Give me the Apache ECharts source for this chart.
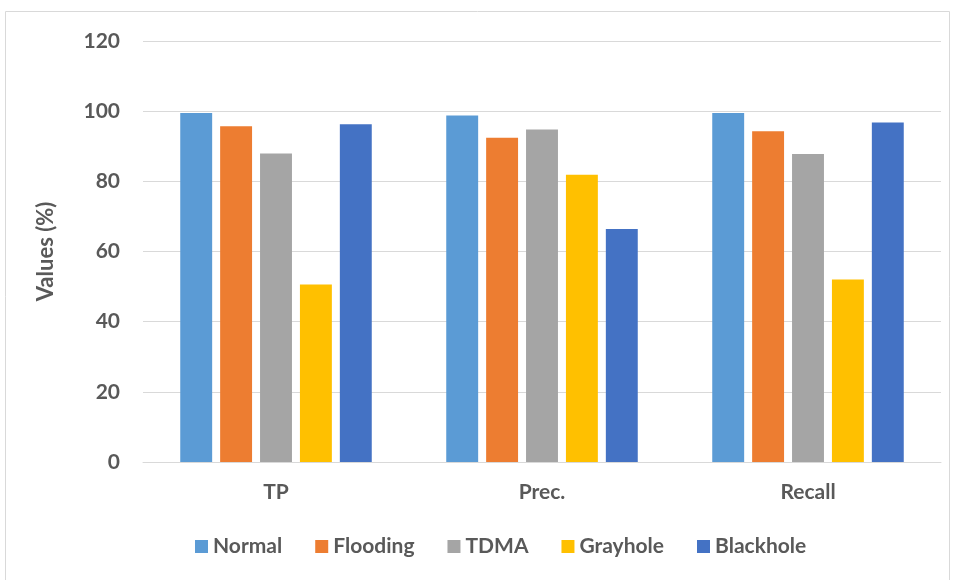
<!DOCTYPE html>
<html>
<head>
<meta charset="utf-8">
<script src="https://cdn.jsdelivr.net/npm/echarts@6/dist/echarts.min.js"></script>
<style>
  html, body { margin: 0; padding: 0; background: #fff; }
  #chart { width: 956px; height: 580px; }
</style>
</head>
<body>
<div id="chart"></div>
<script>
// Detection metrics per attack scenario
const categories = ['TP', 'Prec.', 'Recall'];
const seriesNames = ['Normal', 'Flooding', 'TDMA', 'Grayhole', 'Blackhole'];
const normal    = [99.5, 98.8, 99.5];
const flooding  = [95.7, 92.4, 94.3];
const tdma      = [87.9, 94.8, 87.8];
const grayhole  = [50.6, 81.9, 52.0];
const blackhole = [96.3, 66.4, 96.8];
const yTicks = [0, 20, 40, 60, 80, 100, 120];

const colors = ['#5B9BD5', '#ED7D31', '#A5A5A5', '#FFC000', '#4472C4'];
const values = [normal, flooding, tdma, grayhole, blackhole];
const textColor = '#595959';
const fontFamily = 'Lato, "Open Sans", sans-serif';

const chart = echarts.init(document.getElementById('chart'));
chart.setOption({
  animation: false,
  textStyle: { fontFamily: fontFamily },
  graphic: [{
    type: 'rect',
    shape: { x: 5.5, y: 11.5, width: 944, height: 575 },
    style: { fill: 'none', stroke: '#d9d9d9', lineWidth: 1 },
    silent: true
  }],
  grid: { left: 143, right: 15, top: 41, bottom: 118 },
  legend: {
    bottom: 18,
    left: 190,
    itemWidth: 13,
    itemHeight: 13,
    itemGap: 33,
    icon: 'rect',
    textStyle: { color: textColor, fontSize: 21, fontWeight: 'bold', fontFamily: fontFamily },
    data: seriesNames
  },
  xAxis: {
    type: 'category',
    data: categories,
    axisLine: { lineStyle: { color: '#d9d9d9', width: 1 } },
    axisTick: { show: false },
    axisLabel: { color: textColor, fontSize: 21, fontWeight: 'bold', margin: 20 }
  },
  yAxis: {
    type: 'value',
    min: yTicks[0],
    max: yTicks[yTicks.length - 1],
    interval: yTicks[1] - yTicks[0],
    name: 'Values (%)',
    nameLocation: 'middle',
    nameGap: 86,
    nameRotate: 90,
    nameTextStyle: { color: textColor, fontSize: 22, fontWeight: 'bold' },
    axisLine: { show: false },
    axisTick: { show: false },
    axisLabel: { color: textColor, fontSize: 21, fontWeight: 'bold', margin: 23 },
    splitLine: { lineStyle: { color: '#d9d9d9', width: 1 } }
  },
  series: seriesNames.map((name, i) => ({
    name: name,
    type: 'bar',
    data: values[i],
    barGap: '25%',
    barCategoryGap: '28%',
    itemStyle: { color: colors[i] }
  }))
});
</script>
</body>
</html>
